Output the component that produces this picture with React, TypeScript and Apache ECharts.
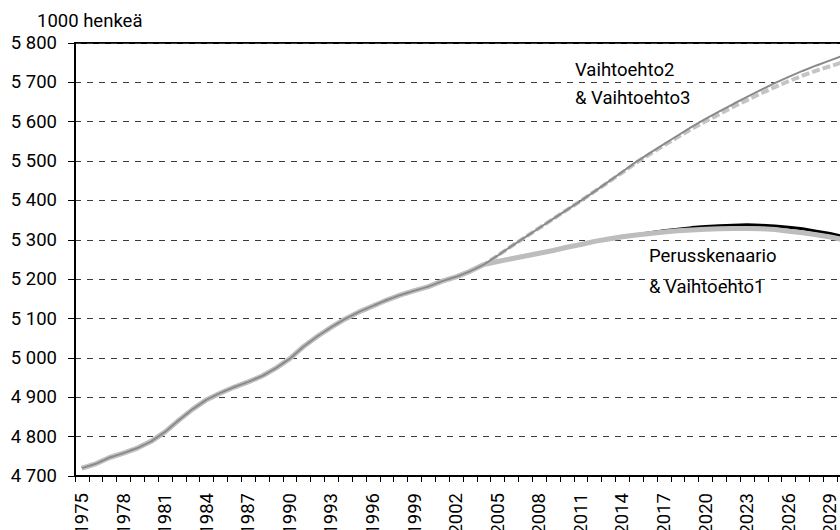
import React, { useEffect, useRef } from "react";
import * as echarts from "echarts";

const years: string[] = Array.from({ length: 56 }, (_, i) => String(1975 + i));

// Historical population 1975–2004 (1000 persons)
const history = [
  4720, 4731, 4747, 4758, 4771, 4788, 4812, 4842, 4870, 4894,
  4911, 4926, 4939, 4954, 4974, 4998, 5029, 5055, 5078, 5099,
  5117, 5132, 5147, 5160, 5171, 5181, 5195, 5206, 5220, 5237,
];

// Projections 2005–2030
const perusProj = [
  5245, 5252, 5259, 5266, 5273, 5281, 5288, 5296, 5302, 5308,
  5313, 5318, 5323, 5327, 5331, 5334, 5336, 5337, 5338, 5337,
  5335, 5332, 5328, 5322, 5316, 5308,
];
const v1Proj = [
  5245, 5252, 5259, 5266, 5273, 5281, 5288, 5296, 5302, 5308,
  5312, 5316, 5320, 5323, 5325, 5327, 5328, 5329, 5329, 5328,
  5326, 5322, 5318, 5313, 5307, 5300,
];
const v2Proj = [
  5260, 5284, 5307, 5330, 5353, 5376, 5399, 5423, 5448, 5473,
  5498, 5521, 5543, 5565, 5587, 5607, 5626, 5645, 5663, 5681,
  5698, 5714, 5729, 5743, 5756, 5769,
];
const v3Proj = [
  5260, 5284, 5307, 5330, 5353, 5376, 5399, 5423, 5447, 5471,
  5496, 5518, 5540, 5561, 5582, 5601, 5619, 5638, 5655, 5672,
  5688, 5703, 5717, 5730, 5741, 5752,
];

const FONT = "Roboto";
const FS = 18.5;

export default function App() {
  const ref = useRef<HTMLDivElement>(null);
  useEffect(() => {
    document.body.style.overflow = "hidden";
    const chart = echarts.init(ref.current as HTMLDivElement, null, { renderer: "svg" });
    const fmt = (v: number) => String(v).replace(/\B(?=(\d{3})+(?!\d))/g, " ");
    const text = (t: string, x: number, y: number) => ({
      type: "text",
      x,
      y,
      z: 100,
      style: { text: t, fill: "#000", fontSize: FS, fontFamily: FONT, align: "left", verticalAlign: "middle" },
    });
    chart.setOption({
      animation: false,
      backgroundColor: "#fff",
      grid: {
        left: 75,
        right: 9,
        top: 43,
        bottom: 54,
        containLabel: false,
        outerBoundsMode: "none",
        show: true,
        borderColor: "#000",
        borderWidth: 2,
        backgroundColor: "transparent",
      },
      xAxis: {
        type: "category",
        data: years,
        boundaryGap: true,
        axisLine: { show: true, lineStyle: { color: "#000", width: 2 } },
        axisTick: { show: true, interval: 0, length: 6, alignWithLabel: false, lineStyle: { color: "#000", width: 1 } },
        axisLabel: { interval: 2, rotate: 90, margin: 17, color: "#000", fontSize: FS, fontFamily: FONT },
        splitLine: { show: false },
      },
      yAxis: {
        type: "value",
        min: 4700,
        max: 5800,
        interval: 100,
        axisLine: { show: true, lineStyle: { color: "#000", width: 2 } },
        axisTick: { show: true, length: 7, lineStyle: { color: "#000", width: 1 } },
        axisLabel: { margin: 18, color: "#000", fontSize: FS, fontFamily: FONT, formatter: fmt },
        splitLine: { show: true, lineStyle: { color: "#3a3a3a", width: 1, type: [6, 6] } },
      },
      series: [
        {
          name: "Perusskenaario",
          type: "line",
          data: history.concat(perusProj),
          symbol: "none",
          z: 2,
          lineStyle: { color: "#000", width: 3 },
        },
        {
          name: "Vaihtoehto1",
          type: "line",
          data: history.concat(v1Proj),
          symbol: "none",
          z: 3,
          lineStyle: { color: "#bdbdbd", width: 5 },
        },
        {
          name: "Vaihtoehto3",
          type: "line",
          data: history.concat(v3Proj),
          symbol: "none",
          z: 4,
          lineStyle: { color: "#c4c4c4", width: 4, type: [8, 3] },
        },
        {
          name: "Vaihtoehto2",
          type: "line",
          data: history.concat(v2Proj),
          symbol: "none",
          z: 5,
          lineStyle: { color: "#8a8a8a", width: 2 },
        },
      ],
      graphic: [
        text("1000 henkeä", 37, 21),
        text("Vaihtoehto2", 575, 70),
        text("& Vaihtoehto3", 575, 98),
        text("Perusskenaario", 649, 256),
        text("& Vaihtoehto1", 649, 287),
      ],
    });
    return () => chart.dispose();
  }, []);
  return <div ref={ref} style={{ position: "fixed", left: 0, top: 0, width: 860, height: 530 }} />;
}
